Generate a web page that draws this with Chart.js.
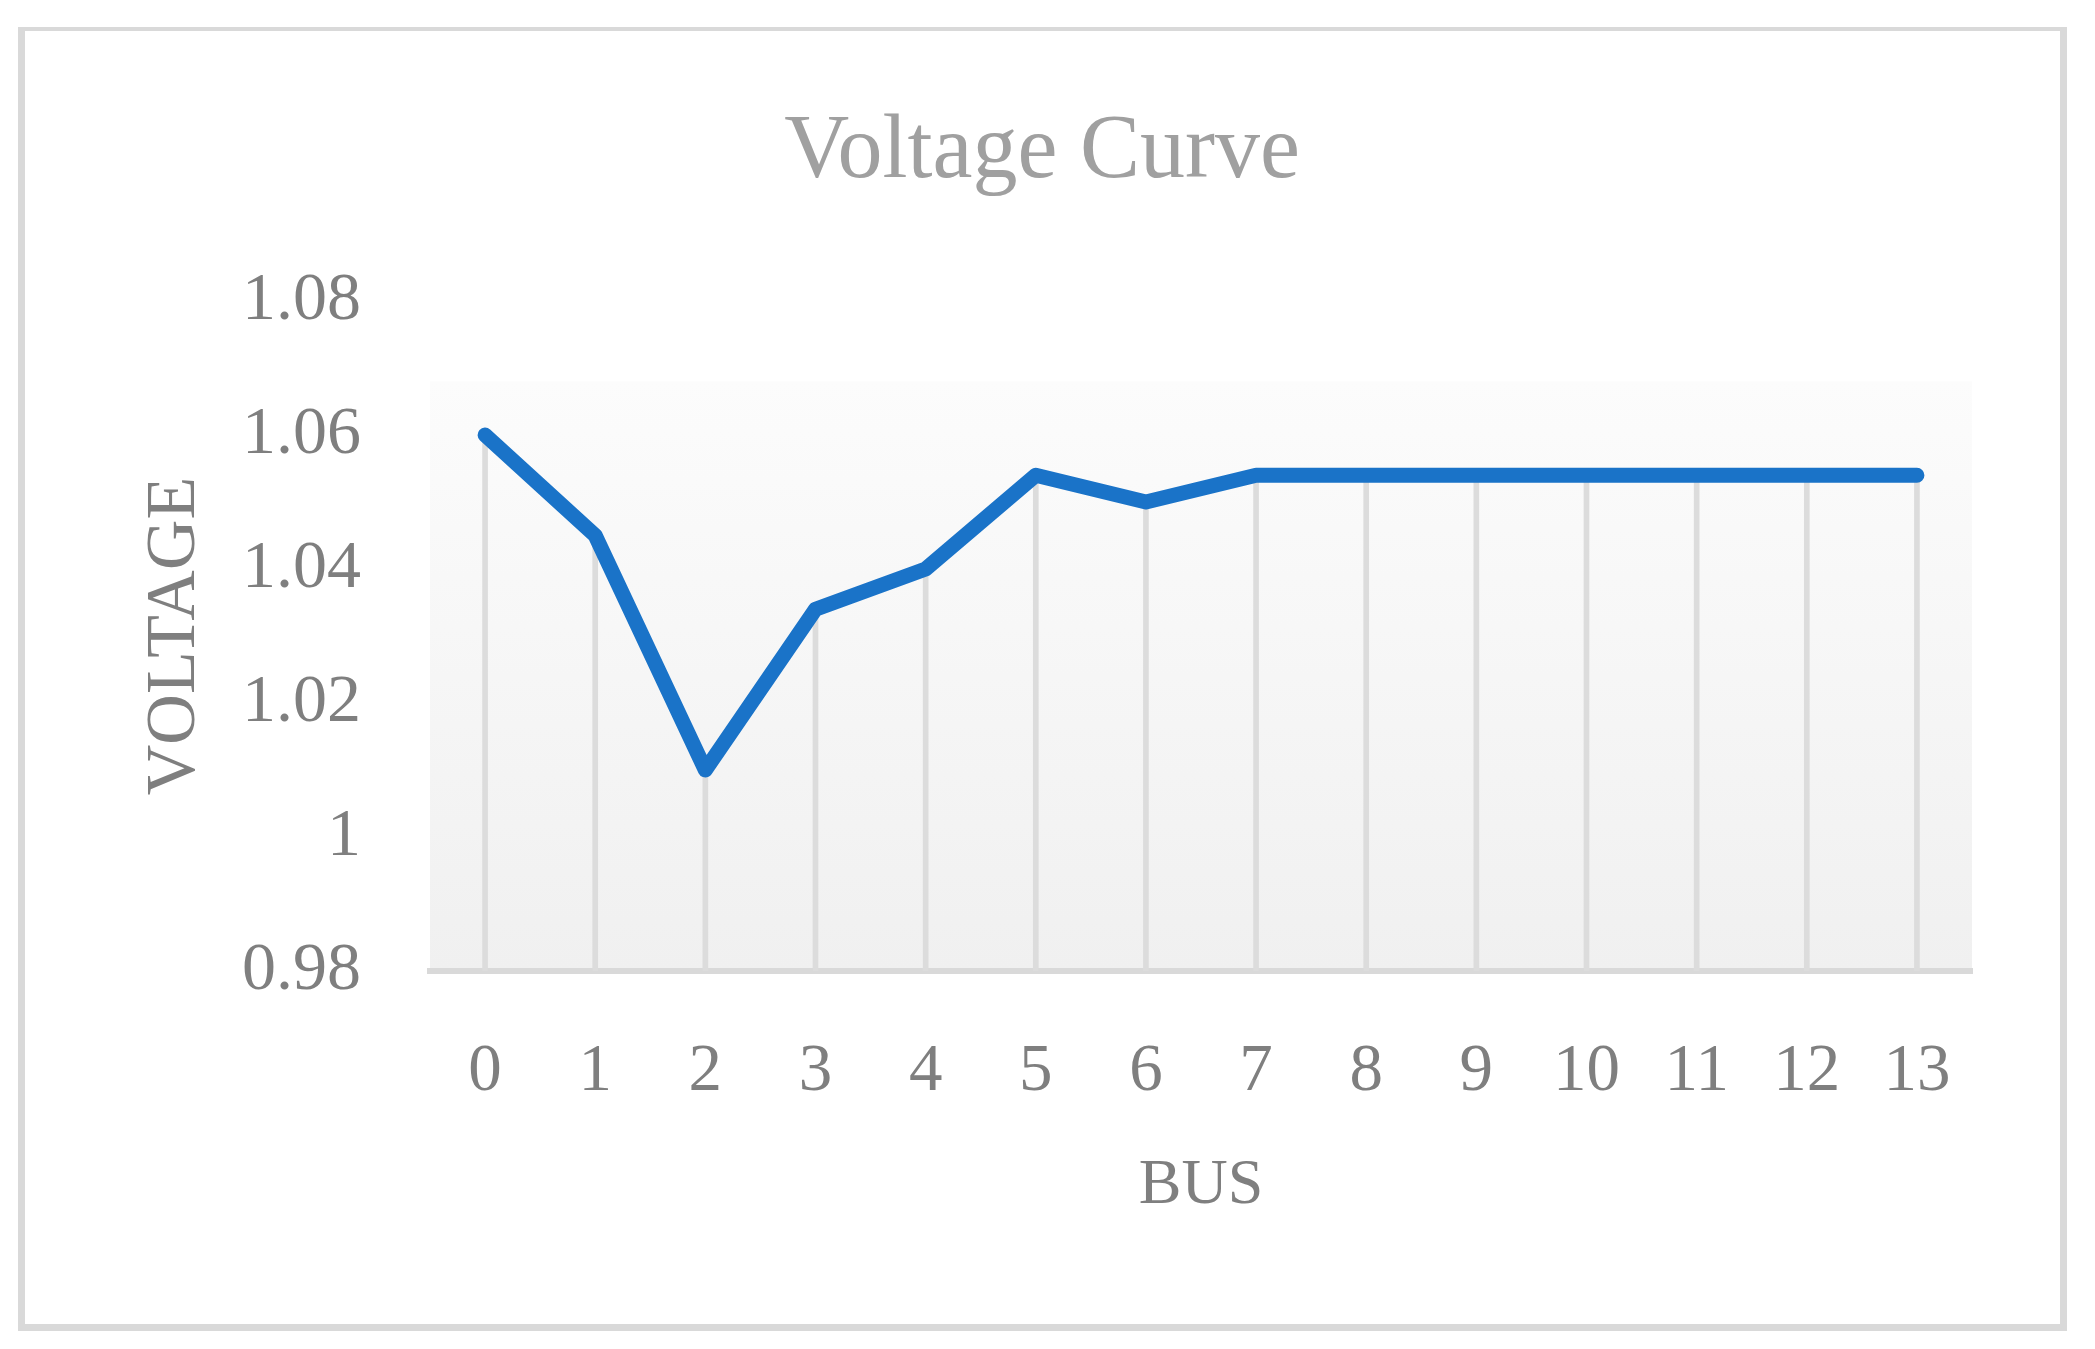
<!DOCTYPE html>
<html>
<head>
<meta charset="utf-8">
<script src="https://cdn.jsdelivr.net/npm/chart.js@4/dist/chart.umd.min.js"></script>
<style>
  html, body { margin: 0; padding: 0; background: #ffffff; }
  #wrap { position: relative; width: 2095px; height: 1349px; }
  #frame {
    position: absolute; left: 18px; top: 27px; width: 2049px; height: 1304px;
    box-sizing: border-box; border: 7px solid #d9d9d9; border-top-width: 4px;
    pointer-events: none;
  }
  canvas { position: absolute; left: 0; top: 0; }
</style>
</head>
<body>
<div id="wrap">
  <canvas id="c" width="2095" height="1349"></canvas>
  <div id="frame"></div>
</div>
<script>
// ---- data ----
const categories = ['0','1','2','3','4','5','6','7','8','9','10','11','12','13'];
const voltage = [1.06, 1.045, 1.01, 1.034, 1.04, 1.054, 1.05, 1.054, 1.054, 1.054, 1.054, 1.054, 1.054, 1.054];
const yTickValues = [0.98, 1.00, 1.02, 1.04, 1.06, 1.08];
const yTickLabels = ['0.98', '1', '1.02', '1.04', '1.06', '1.08'];
const chartTitle = 'Voltage Curve';
const xTitle = 'BUS';
const yTitle = 'VOLTAGE';
const plotBgTopValue = 1.068;

const FONT = "'Liberation Serif', 'Times New Roman', serif";

const plotBackground = {
  id: 'plotBackground',
  beforeDraw(chart) {
    const {ctx, chartArea, scales} = chart;
    const top = scales.y.getPixelForValue(plotBgTopValue);
    const g = ctx.createLinearGradient(0, top, 0, chartArea.bottom);
    g.addColorStop(0, '#fcfcfc');
    g.addColorStop(1, '#f0f0f0');
    ctx.save();
    ctx.fillStyle = g;
    ctx.fillRect(chartArea.left, top, chartArea.right - chartArea.left, chartArea.bottom - top);
    ctx.restore();
  }
};

new Chart(document.getElementById('c'), {
  type: 'line',
  data: {
    labels: categories,
    datasets: [
      {
        type: 'line',
        label: 'Voltage',
        data: voltage,
        borderColor: '#1a73c8',
        borderWidth: 15,
        borderCapStyle: 'round',
        borderJoinStyle: 'round',
        pointRadius: 0,
        tension: 0,
        fill: false,
        order: 0
      },
      {
        type: 'bar',
        label: 'drop',
        data: voltage,
        backgroundColor: '#dcdcdc',
        barThickness: 5,
        order: 1
      }
    ]
  },
  options: {
    responsive: false,
    animation: false,
    devicePixelRatio: 1,
    layout: { padding: { top: 20, left: 112, right: 123, bottom: 20 } },
    plugins: {
      legend: { display: false },
      tooltip: { enabled: false },
      title: {
        display: true,
        text: chartTitle,
        color: '#a0a0a0',
        font: { family: FONT, size: 90, weight: 'normal' },
        padding: { top: 79, bottom: 94 }
      }
    },
    scales: {
      x: {
        type: 'category',
        offset: true,
        grid: { display: false, drawTicks: false },
        border: { display: true, color: '#d9d9d9', width: 6 },
        ticks: {
          color: '#7f7f7f',
          font: { family: FONT, size: 67 },
          padding: 61,
          maxRotation: 0,
          autoSkip: false
        },
        title: {
          display: true,
          text: xTitle,
          color: '#7f7f7f',
          font: { family: FONT, size: 64 },
          padding: { top: 0, bottom: 104 }
        },
        afterFit(scale) { scale.height = 1349 - 20 - 971; }
      },
      y: {
        type: 'linear',
        min: 0.98,
        max: 1.08,
        grid: { display: false, drawTicks: false },
        border: { display: false },
        afterBuildTicks(scale) { scale.ticks = yTickValues.map(v => ({ value: v })); },
        ticks: {
          color: '#7f7f7f',
          font: { family: FONT, size: 68 },
          padding: 69,
          callback: (v, i) => yTickLabels[i]
        },
        title: {
          display: true,
          text: yTitle,
          color: '#7f7f7f',
          font: { family: FONT, size: 70 },
          padding: { top: 22, bottom: 0 }
        },
        afterFit(scale) { scale.width = 430 - 112; }
      }
    }
  },
  plugins: [plotBackground]
});
</script>
</body>
</html>
